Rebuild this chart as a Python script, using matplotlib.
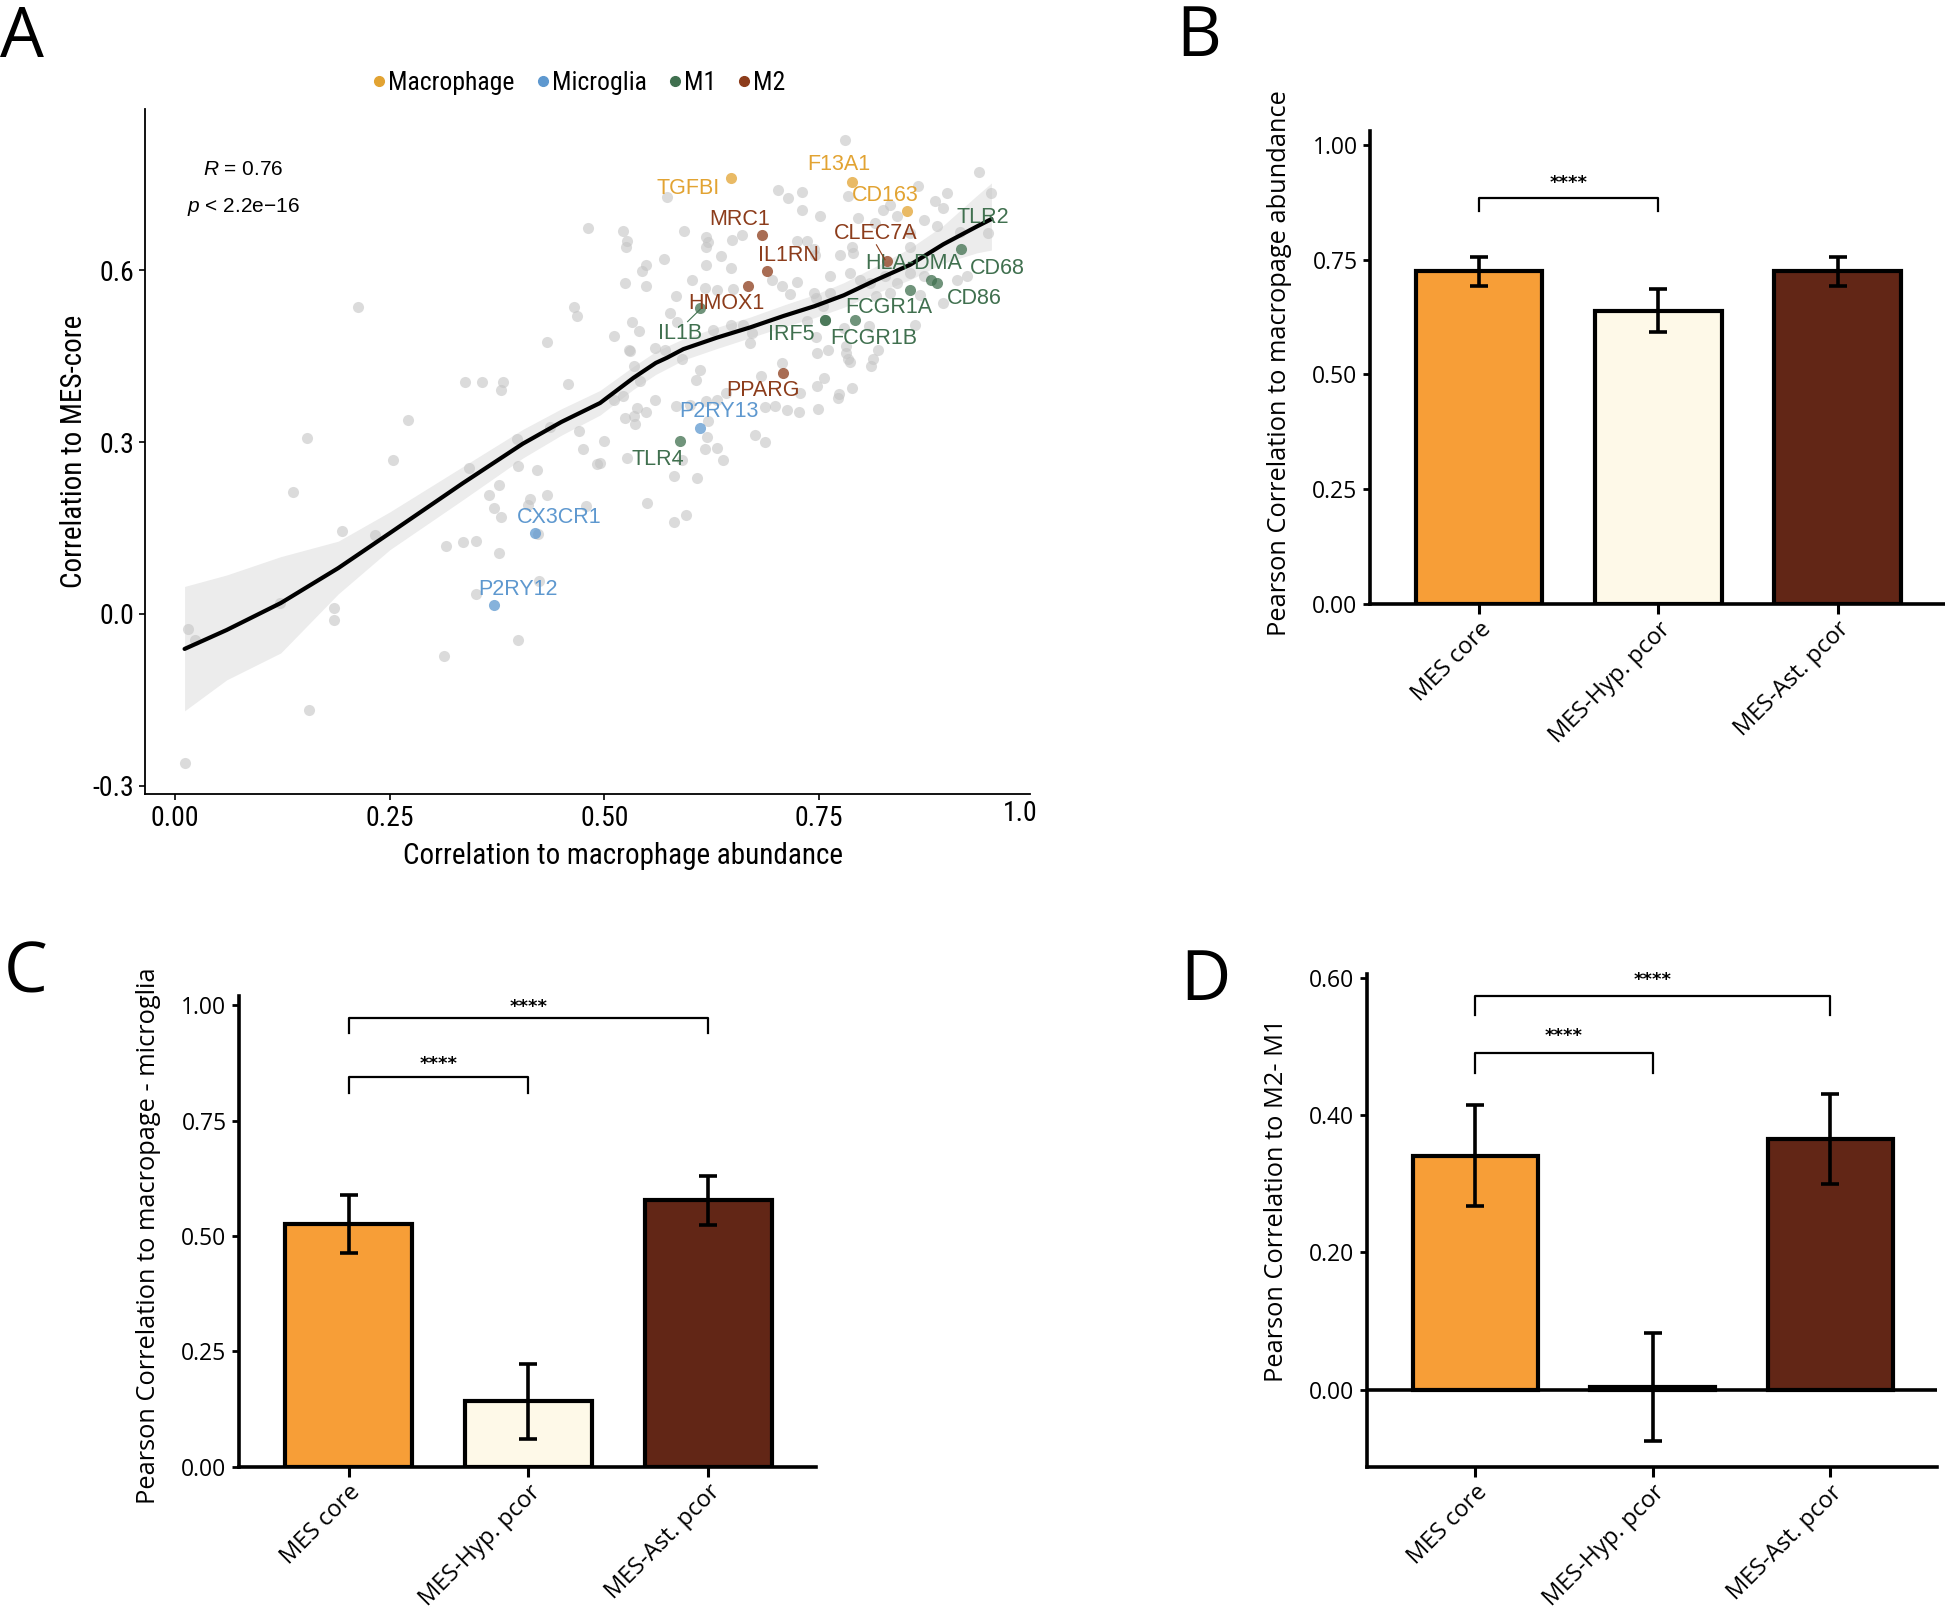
import os
import matplotlib
matplotlib.use('Agg')
import matplotlib.pyplot as plt
from matplotlib import font_manager
from matplotlib.font_manager import FontProperties
from matplotlib.lines import Line2D
import numpy as np

# ---- fonts: try to find a narrow/condensed face for panel A ----
def find_narrow():
    prefer = ['Liberation Sans Narrow', 'Roboto Condensed', 'Noto Sans', 'Open Sans', 'DejaVu Sans', 'Roboto']
    found = []
    for f in font_manager.fontManager.ttflist:
        base = os.path.basename(f.fname)
        low = base.lower()
        if not ('condensed' in low or 'narrow' in low):
            continue
        if 'semi' in low or 'extra' in low or 'ultra' in low:
            continue
        if any(k in low for k in ['bold', 'italic', 'oblique', 'light', 'thin', 'black', 'medium']):
            continue
        rank = prefer.index(f.name) if f.name in prefer else len(prefer)
        found.append((rank, f.fname))
    found.sort()
    return found[0][1] if found else None


narrow_path = find_narrow()
NARROW_OK = narrow_path is not None


def nfp(size):
    if NARROW_OK:
        return FontProperties(fname=narrow_path, size=size)
    return FontProperties(family='DejaVu Sans', size=size * 0.86)


helv = 'Liberation Sans'
myriad = 'Open Sans'
plt.rcParams['mathtext.fontset'] = 'custom'
plt.rcParams['mathtext.rm'] = helv
plt.rcParams['mathtext.it'] = helv + ':italic'

# ---- panel A data ----
gray_x = [0.702, 0.714, 0.730, 0.730, 0.573, 0.522, 0.526, 0.525, 0.593, 0.619, 0.621, 0.619,
          0.649, 0.660, 0.724, 0.736, 0.744, 0.569, 0.549, 0.544, 0.524, 0.549, 0.619, 0.636,
          0.648, 0.695, 0.707, 0.602, 0.617, 0.631, 0.650, 0.724, 0.716, 0.744, 0.584, 0.577,
          0.585, 0.532, 0.540, 0.511, 0.529, 0.559, 0.571, 0.627, 0.647, 0.662, 0.672, 0.670,
          0.736,
          0.936, 0.951, 0.865, 0.899, 0.784, 0.885, 0.894, 0.872, 0.887, 0.751, 0.796, 0.825,
          0.833, 0.815, 0.841, 0.856, 0.914, 0.947, 0.746, 0.775, 0.788, 0.790, 0.856, 0.786,
          0.763, 0.798, 0.810, 0.827, 0.841, 0.856, 0.872, 0.911, 0.922, 0.895, 0.868, 0.833,
          0.817, 0.763, 0.747, 0.755, 0.779, 0.808, 0.862, 0.747, 0.782, 0.819, 0.780,
          0.530, 0.534, 0.542, 0.511, 0.522, 0.559, 0.538, 0.549, 0.534, 0.536, 0.524, 0.590,
          0.612, 0.607, 0.584, 0.600, 0.619, 0.631, 0.621, 0.500, 0.495, 0.526, 0.590, 0.620,
          0.631, 0.617, 0.638, 0.581, 0.608, 0.550, 0.581, 0.595, 0.682, 0.707, 0.675, 0.687,
          0.687, 0.699, 0.713, 0.727, 0.728, 0.748, 0.749, 0.748, 0.642,
          0.761, 0.782, 0.784, 0.786, 0.813, 0.811, 0.756, 0.789, 0.773, 0.772,
          0.481, 0.465, 0.468, 0.213, 0.433, 0.338, 0.357, 0.382, 0.380, 0.458, 0.271, 0.437,
          0.398, 0.475, 0.154, 0.254, 0.342, 0.137, 0.470, 0.492, 0.399, 0.421, 0.377, 0.366,
          0.433, 0.413, 0.411, 0.371, 0.380, 0.479, 0.423, 0.194, 0.233, 0.316, 0.335, 0.351,
          0.377, 0.350, 0.424, 0.122, 0.185, 0.185, 0.015, 0.023, 0.399, 0.313, 0.156, 0.011]
gray_y = [0.739, 0.726, 0.736, 0.704, 0.728, 0.669, 0.650, 0.641, 0.669, 0.658, 0.649, 0.640,
          0.652, 0.662, 0.650, 0.650, 0.636, 0.619, 0.608, 0.598, 0.577, 0.572, 0.608, 0.624,
          0.604, 0.583, 0.572, 0.583, 0.569, 0.566, 0.567, 0.580, 0.559, 0.560, 0.554, 0.525,
          0.509, 0.509, 0.493, 0.485, 0.461, 0.464, 0.461, 0.495, 0.505, 0.505, 0.490, 0.473,
          0.511,
          0.771, 0.735, 0.746, 0.735, 0.729, 0.720, 0.708, 0.688, 0.676, 0.694, 0.691, 0.705,
          0.714, 0.682, 0.694, 0.665, 0.666, 0.665, 0.627, 0.627, 0.641, 0.630, 0.641, 0.595,
          0.589, 0.583, 0.578, 0.589, 0.577, 0.595, 0.589, 0.583, 0.589, 0.543, 0.557, 0.560,
          0.554, 0.560, 0.551, 0.537, 0.499, 0.502, 0.505, 0.484, 0.467, 0.461, 0.827,
          0.458, 0.432, 0.406, 0.374, 0.380, 0.374, 0.359, 0.353, 0.345, 0.332, 0.342, 0.444,
          0.426, 0.409, 0.362, 0.365, 0.371, 0.374, 0.336, 0.301, 0.263, 0.272, 0.269, 0.308,
          0.290, 0.288, 0.269, 0.241, 0.238, 0.194, 0.160, 0.173, 0.416, 0.438, 0.313, 0.300,
          0.361, 0.362, 0.355, 0.352, 0.386, 0.397, 0.357, 0.455, 0.385,
          0.461, 0.455, 0.444, 0.439, 0.444, 0.433, 0.412, 0.395, 0.384, 0.377,
          0.674, 0.535, 0.520, 0.535, 0.474, 0.404, 0.404, 0.404, 0.390, 0.402, 0.338, 0.326,
          0.306, 0.288, 0.307, 0.268, 0.254, 0.213, 0.319, 0.261, 0.259, 0.252, 0.225, 0.208,
          0.207, 0.200, 0.190, 0.184, 0.169, 0.188, 0.139, 0.144, 0.138, 0.118, 0.126, 0.128,
          0.106, 0.034, 0.057, 0.020, 0.010, -0.010, -0.027, -0.045, -0.045, -0.074, -0.168, -0.260]

genes = ['TGFBI', 'F13A1', 'CD163', 'P2RY13', 'CX3CR1', 'P2RY12',
         'IL1B', 'TLR4', 'TLR2', 'HLA-DMA', 'CD68', 'CD86', 'FCGR1A', 'FCGR1B', 'IRF5',
         'MRC1', 'IL1RN', 'HMOX1', 'CLEC7A', 'PPARG']
gene_type = ['Macrophage'] * 3 + ['Microglia'] * 3 + ['M1'] * 9 + ['M2'] * 5
gene_x = [0.648, 0.789, 0.853, 0.611, 0.419, 0.372,
          0.612, 0.588, 0.915, 0.880, 0.887, 0.856, 0.792, 0.757, 0.757,
          0.684, 0.690, 0.667, 0.829, 0.708]
gene_y = [0.761, 0.754, 0.703, 0.325, 0.141, 0.015,
          0.534, 0.302, 0.636, 0.583, 0.577, 0.566, 0.513, 0.513, 0.513,
          0.662, 0.598, 0.572, 0.615, 0.420]
label_x = [0.598, 0.773, 0.827, 0.634, 0.447, 0.400,
           0.588, 0.562, 0.941, 0.860, 0.958, 0.931, 0.831, 0.814, 0.718,
           0.658, 0.715, 0.642, 0.816, 0.685]
label_y = [0.743, 0.784, 0.730, 0.353, 0.169, 0.043,
           0.489, 0.269, 0.691, 0.611, 0.602, 0.550, 0.535, 0.481, 0.487,
           0.689, 0.626, 0.541, 0.663, 0.390]

loess_x = [0.011, 0.06, 0.123, 0.19, 0.25, 0.335, 0.405, 0.45, 0.495, 0.534, 0.56, 0.573,
           0.592, 0.631, 0.670, 0.709, 0.745, 0.779, 0.817, 0.856, 0.895, 0.934, 0.951]
loess_y = [-0.061, -0.028, 0.019, 0.080, 0.141, 0.228, 0.297, 0.335, 0.368, 0.412, 0.438, 0.447,
           0.462, 0.482, 0.500, 0.520, 0.537, 0.556, 0.583, 0.609, 0.645, 0.676, 0.689]
band_lo = [-0.169, -0.115, -0.068, 0.035, 0.112, 0.199, 0.272, 0.312, 0.347, 0.392, 0.418, 0.428,
           0.443, 0.463, 0.482, 0.501, 0.517, 0.535, 0.560, 0.583, 0.612, 0.630, 0.635]
band_hi = [0.048, 0.068, 0.100, 0.127, 0.178, 0.257, 0.322, 0.358, 0.390, 0.432, 0.458, 0.467,
           0.480, 0.500, 0.518, 0.539, 0.557, 0.578, 0.607, 0.638, 0.678, 0.730, 0.752]

type_names = ['Macrophage', 'Microglia', 'M1', 'M2']
type_colors = {'Macrophage': '#E2A332', 'Microglia': '#5E98CF', 'M1': '#40704F', 'M2': '#8C3C1B'}

# ---- bar panels data ----
groups = ['MES core', 'MES-Hyp. pcor', 'MES-Ast. pcor']
bar_colors = ['#F79E37', '#FEF9E8', '#622616']
b_vals = [0.724, 0.639, 0.724]
b_err = [0.032, 0.046, 0.032]
c_vals = [0.526, 0.142, 0.577]
c_err = [0.062, 0.081, 0.054]
d_vals = [0.341, 0.004, 0.365]
d_err = [0.073, 0.078, 0.066]

fig = plt.figure(figsize=(19.45, 16.17), dpi=100)

# ---------------- Panel A ----------------
ax = fig.add_axes([0.0746, 0.509, 0.455, 0.4236])
ax.fill_between(loess_x, band_lo, band_hi, color='#E4E4E4', alpha=0.7, lw=0, zorder=1)
ax.scatter(gray_x, gray_y, s=64, color='#C4C4C4', alpha=0.6, lw=0, zorder=2)
for t in type_names:
    xs = [gene_x[i] for i in range(len(genes)) if gene_type[i] == t]
    ys = [gene_y[i] for i in range(len(genes)) if gene_type[i] == t]
    ax.scatter(xs, ys, s=64, color=type_colors[t], alpha=0.75, lw=0, zorder=3)
ax.plot(loess_x, loess_y, color='black', lw=3, zorder=4, solid_capstyle='round')
for i, g in enumerate(genes):
    ax.text(label_x[i], label_y[i], g, color=type_colors[gene_type[i]], fontsize=15.5,
            family=helv, ha='center', va='center', zorder=5)
# connector segments for two labels
ax.plot([0.597, 0.612], [0.510, 0.532], color=type_colors['M1'], lw=0.8, zorder=5)
ax.plot([0.817, 0.827], [0.644, 0.618], color=type_colors['M2'], lw=0.8, zorder=5)

ax.text(0.0795, 0.775, r'$\mathit{R}$ = 0.76', fontsize=15, family=helv, ha='center', va='center')
ax.text(0.0795, 0.71, r'$\mathit{p}$ < 2.2e' + '\u221216', fontsize=15, family=helv, ha='center', va='center')

ax.set_xlim(-0.035, 0.996)
ax.set_ylim(-0.314, 0.881)
ax.set_xticks([0, 0.25, 0.5, 0.75])
ax.set_xticklabels(['0.00', '0.25', '0.50', '0.75'])
ax.set_yticks([-0.3, 0.0, 0.3, 0.6])
ax.set_yticklabels(['-0.3', '0.0', '0.3', '0.6'])
ax.text(0.985, -0.028, '1.0', transform=ax.get_xaxis_transform(), ha='center', va='center',
        fontproperties=nfp(20))
for s in ['top', 'right']:
    ax.spines[s].set_visible(False)
for s in ['left', 'bottom']:
    ax.spines[s].set_linewidth(1.3)
ax.tick_params(length=4, width=1.2, pad=4)
for lab in ax.get_xticklabels() + ax.get_yticklabels():
    lab.set_fontproperties(nfp(20))
ax.set_xlabel('Correlation to macrophage abundance', fontproperties=nfp(21))
ax.set_ylabel('Correlation to MES-core', fontproperties=nfp(21))
ax.xaxis.set_label_coords(0.54, -0.07)
ax.yaxis.set_label_coords(-0.064, 0.5)

handles = [Line2D([], [], marker='o', ls='', color=type_colors[t], markersize=7) for t in type_names]
fig.legend(handles, type_names, loc='center', bbox_to_anchor=(0.296, 0.9487), ncol=4,
           frameon=False, handletextpad=-0.15, columnspacing=0.6, handlelength=1.0,
           prop=nfp(18.5))


# ---------------- bar panels ----------------
def bar_panel(rect, vals, errs, ylim, yticks, ylabel, brackets, label_y, zero_line=False):
    bx = fig.add_axes(rect)
    pos = np.arange(len(groups))
    bx.bar(pos, vals, width=0.705, color=bar_colors, edgecolor='black', linewidth=3, zorder=2)
    bx.errorbar(pos, vals, yerr=errs, fmt='none', ecolor='black', elinewidth=2.6,
                capsize=6.5, capthick=2.6, zorder=3)
    if zero_line:
        bx.axhline(0, color='black', lw=2.6, zorder=4)
    for x1, x2, yb, yd, ys in brackets:
        bx.plot([x1, x1, x2, x2], [yd, yb, yb, yd], color='black', lw=1.6, zorder=3)
        bx.text((x1 + x2) / 2, ys, '****', ha='center', va='center', fontsize=13,
                family='DejaVu Sans', fontweight='bold')
    bx.set_xlim(-0.61, 2.6)
    bx.set_ylim(*ylim)
    bx.set_yticks(yticks)
    bx.set_yticklabels(['%.2f' % v for v in yticks])
    bx.set_xticks(pos)
    bx.set_xticklabels(groups, rotation=45, ha='right', va='top', rotation_mode='anchor')
    for s in ['top', 'right']:
        bx.spines[s].set_visible(False)
    for s in ['left', 'bottom']:
        bx.spines[s].set_linewidth(2.6)
    bx.tick_params(axis='y', length=5, width=2, pad=4)
    bx.tick_params(axis='x', length=7, width=2.2, pad=2.5)
    for lab in bx.get_xticklabels():
        lab.set_fontfamily(myriad)
        lab.set_fontsize(17)
    for lab in bx.get_yticklabels():
        lab.set_fontfamily(myriad)
        lab.set_fontsize(16.5)
    bx.set_ylabel(ylabel, family=myriad, fontsize=18.3)
    bx.yaxis.set_label_coords(-0.136, label_y)
    return bx


bar_panel([0.7044, 0.6265, 0.2956, 0.2925], b_vals, b_err, (0, 1.03),
          [0, 0.25, 0.5, 0.75, 1.0], 'Pearson Correlation to macropage abundance',
          [(0, 1, 0.883, 0.856, 0.916)], 0.51)
bar_panel([0.1229, 0.0928, 0.2967, 0.2913], c_vals, c_err, (0, 1.02),
          [0, 0.25, 0.5, 0.75, 1.0], 'Pearson Correlation to macropage - microglia',
          [(0, 2, 0.972, 0.939, 0.995), (0, 1, 0.844, 0.809, 0.873)], 0.49)
bar_panel([0.7028, 0.0925, 0.293, 0.305], d_vals, d_err, (-0.113, 0.605),
          [0, 0.2, 0.4, 0.6], 'Pearson Correlation to M2- M1',
          [(0, 2, 0.574, 0.546, 0.597), (0, 1, 0.490, 0.461, 0.515)], 0.542, zero_line=True)

# panel letters
for letter, x, y in [('A', 0.0, 0.9647), ('B', 0.6046, 0.9654), ('C', 0.002, 0.3865), ('D', 0.607, 0.3816)]:
    fig.text(x, y, letter, fontsize=50, family=myriad, ha='left', va='baseline')

fig.savefig('out.png', dpi=100)
